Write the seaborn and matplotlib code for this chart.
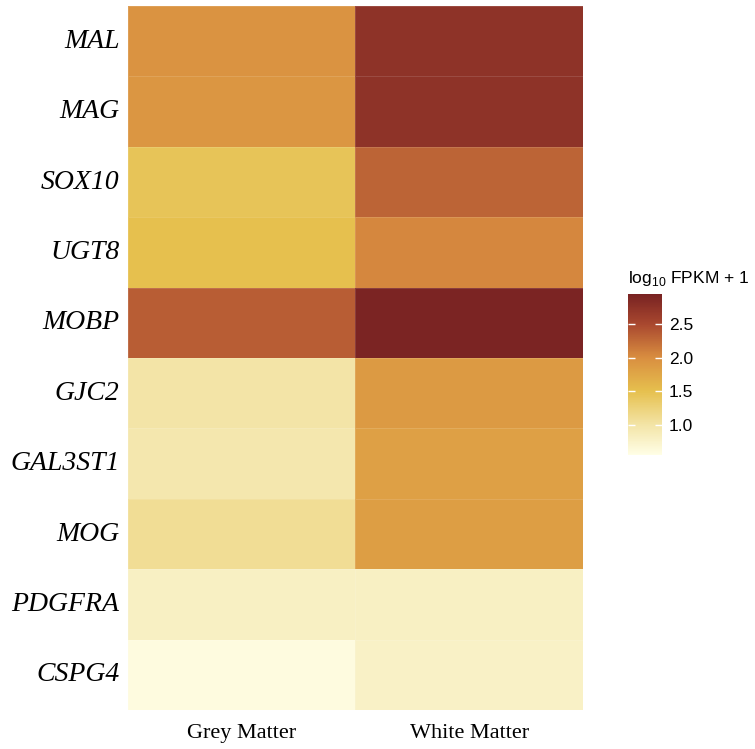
import numpy as np
import pandas as pd
import seaborn as sns
import matplotlib
matplotlib.use("Agg")
import matplotlib.pyplot as plt
from matplotlib.colors import LinearSegmentedColormap

genes = ["MAL", "MAG", "SOX10", "UGT8", "MOBP", "GJC2", "GAL3ST1", "MOG", "PDGFRA", "CSPG4"]
conditions = ["Grey Matter", "White Matter"]
grey_matter = [1.95, 1.92, 1.45, 1.50, 2.35, 1.00, 0.95, 1.10, 0.80, 0.60]
white_matter = [2.75, 2.75, 2.30, 2.05, 2.92, 1.88, 1.82, 1.84, 0.80, 0.78]
cbar_ticks = [1.0, 1.5, 2.0, 2.5]
vmin, vmax = 0.55, 2.95

df = pd.DataFrame({conditions[0]: grey_matter, conditions[1]: white_matter}, index=genes)

nodes = [(0.55, "#FFFEE6"), (1.0, "#F3E4A6"), (1.5, "#E6C04E"),
         (2.0, "#D98E40"), (2.5, "#A9482F"), (2.95, "#782222")]
cmap = LinearSegmentedColormap.from_list(
    "fpkm", [((v - vmin) / (vmax - vmin), c) for v, c in nodes])

fig = plt.figure(figsize=(7.55, 7.49), dpi=100)
ax = fig.add_axes([0.1695, 0.052, 0.6025, 0.940])
cax = fig.add_axes([0.832, 0.3925, 0.045, 0.215])

sns.heatmap(df, ax=ax, cbar_ax=cax, cmap=cmap, vmin=vmin, vmax=vmax,
            linewidths=0.6, linecolor=(1, 1, 1, 0.12),
            cbar_kws={"ticks": cbar_ticks})

ax.tick_params(axis="y", length=0, pad=6)
ax.tick_params(axis="x", length=0, pad=10)
ax.set_yticklabels(genes, rotation=0, fontfamily="Liberation Serif",
                   fontstyle="italic", fontsize=20)
ax.set_xticklabels(conditions, rotation=0, fontfamily="Liberation Serif",
                   fontsize=16)
ax.set_xlabel("")
ax.set_ylabel("")

cax.set_yticks(cbar_ticks)
cax.set_yticklabels(["1.0", "1.5", "2.0", "2.5"], fontfamily="Liberation Sans", fontsize=12.5)
cax.tick_params(axis="y", direction="in", color="white", length=5, width=1,
                left=True, right=True, pad=5)
for s in cax.spines.values():
    s.set_visible(False)
cax.set_title(r"log$_{\mathregular{10}}$ FPKM + 1", fontfamily="Liberation Sans", fontsize=12.5,
              loc="left", pad=8)
cax.title.set_x(-0.03)

fig.savefig("out.png", dpi=100)
